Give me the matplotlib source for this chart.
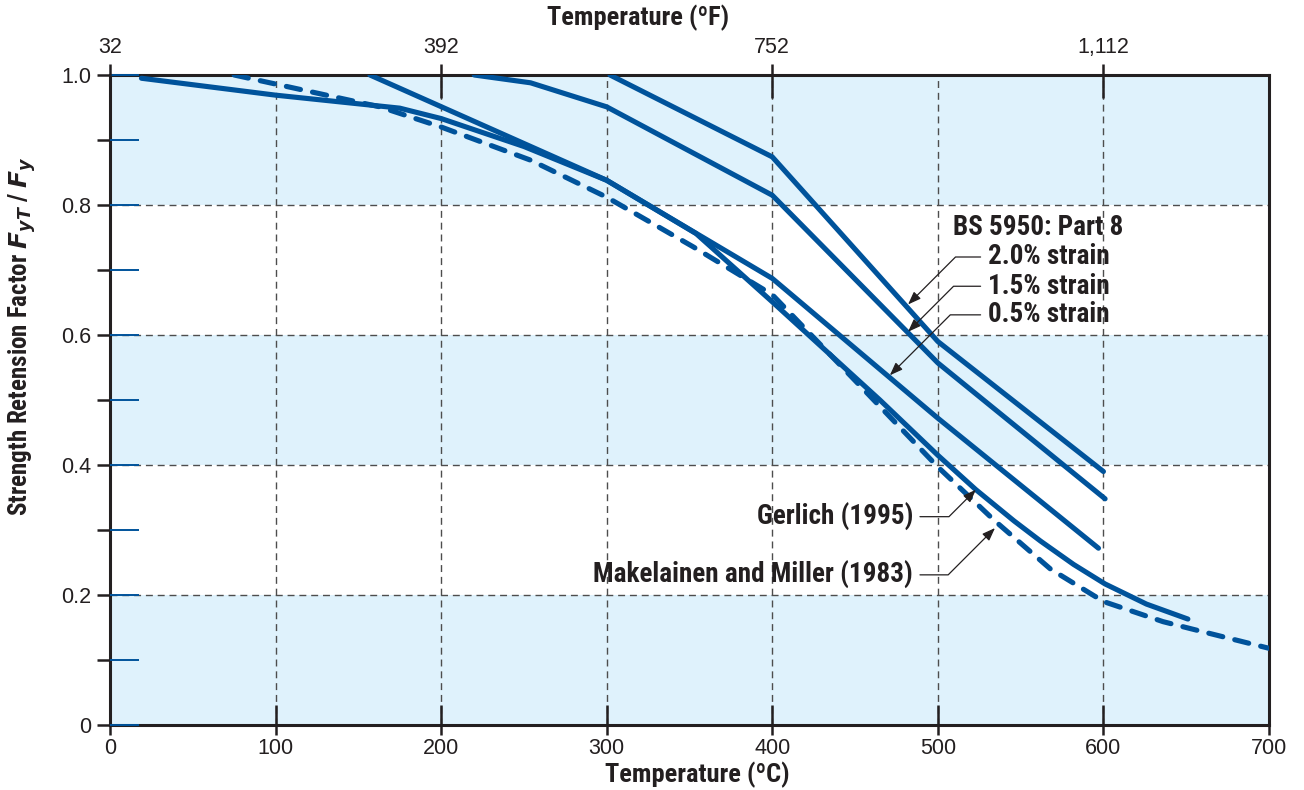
import numpy as np
import matplotlib
matplotlib.use("Agg")
import matplotlib.pyplot as plt
from matplotlib.ticker import MultipleLocator, FuncFormatter

plt.rcParams['font.family'] = ['Liberation Sans', 'DejaVu Sans']

# --- data (temperature in deg C, retention factor) ---
strain20_t = [302, 400, 500, 600]
strain20_f = [1.0, 0.874, 0.590, 0.390]

strain15_t = [220, 254, 300, 400, 500, 601]
strain15_f = [1.0, 0.988, 0.951, 0.815, 0.557, 0.348]

strain05_t = [157, 300, 400, 500, 597]
strain05_f = [1.0, 0.838, 0.687, 0.472, 0.272]

gerlich_t = [19, 100, 175, 200, 250, 300, 354, 400, 465, 500, 523, 546, 562,
             582, 601, 626, 651]
gerlich_f = [0.995, 0.969, 0.949, 0.933, 0.890, 0.838, 0.756, 0.651, 0.500,
             0.415, 0.362, 0.314, 0.283, 0.247, 0.217, 0.186, 0.163]

makel_t = [75, 163, 200, 254, 300, 352, 400, 450, 500, 534, 568, 600, 636, 653, 700]
makel_f = [1.0, 0.951, 0.920, 0.869, 0.812, 0.736, 0.662, 0.530, 0.397, 0.315,
           0.240, 0.190, 0.159, 0.148, 0.118]

x_ticks = [0, 100, 200, 300, 400, 500, 600, 700]
y_ticks = [0, 0.2, 0.4, 0.6, 0.8, 1.0]
y_labels = ['0', '0.2', '0.4', '0.6', '0.8', '1.0']
top_f_ticks = [32, 392, 752, 1112]
blue_bands = [(0, 0.2), (0.4, 0.6), (0.8, 1.0)]
white_bands = [(0.2, 0.4), (0.6, 0.8)]

BLUE = '#00539b'
BAND = '#dff2fc'
DARK = '#231f20'
GRID = '#4d4d4d'
NARROW = ['Liberation Sans Narrow', 'Roboto Condensed', 'DejaVu Sans Condensed',
          'Roboto', 'DejaVu Sans']

fig = plt.figure(figsize=(13.04, 7.90), dpi=100, facecolor='white')
ax = fig.add_axes([110 / 1304, 1 - 725 / 790, 1159 / 1304, 650 / 790])
ax.set_facecolor('white')
ax.set_xlim(0, 700)
ax.set_ylim(0, 1.0)

for lo, hi in blue_bands:
    ax.fill_between([x_ticks[0], x_ticks[-1]], lo, hi, facecolor=BAND,
                    edgecolor='none', lw=0, zorder=0.5)
for lo, hi in white_bands:
    ax.fill_between([x_ticks[0], x_ticks[-1]], lo, hi, facecolor='#ffffff',
                    edgecolor='none', lw=0, zorder=0.5)

for t in x_ticks[1:-1]:
    ax.axvline(t, color=GRID, lw=1.0, ls=(0, (5, 3.5)), zorder=1)
for f in y_ticks[1:-1]:
    ax.axhline(f, color=GRID, lw=1.0, ls=(0, (5, 3.5)), zorder=1)

lw = 3.7
solid = dict(color=BLUE, lw=lw, solid_capstyle='round', solid_joinstyle='miter',
             zorder=3)
ax.plot(strain20_t, strain20_f, **solid)
ax.plot(strain15_t, strain15_f, **solid)
ax.plot(strain05_t, strain05_f, **solid)
ax.plot(gerlich_t, gerlich_f, color=BLUE, lw=lw, solid_capstyle='round', zorder=3)
ax.plot(makel_t, makel_f, color=BLUE, lw=lw, ls=(0, (2.8, 2.4)),
        dash_capstyle='round', zorder=3)

# spines
for s in ax.spines.values():
    s.set_linewidth(2.2)
    s.set_color(DARK)

# bottom axis
ax.set_xticks(x_ticks)
ax.tick_params(axis='x', direction='in', length=14.5, width=1.8, color=DARK,
               labelsize=15.5, pad=9, labelcolor=DARK)
secb = ax.secondary_xaxis('bottom')
secb.set_xticks(x_ticks)
secb.tick_params(direction='out', length=7, width=1.8, color=DARK, labelbottom=False)
secb.spines['bottom'].set_visible(False)

# left axis
ax.set_yticks(y_ticks)
ax.set_yticklabels(y_labels)
ax.yaxis.set_minor_locator(MultipleLocator(0.1))
ax.tick_params(axis='y', which='both', direction='out', length=9.5, width=1.8,
               color=DARK)
ax.tick_params(axis='y', labelsize=15.5, pad=4, labelcolor=DARK)
secl = ax.secondary_yaxis('left')
secl.set_yticks(np.arange(0, 1.01, 0.1))
secl.tick_params(direction='in', length=21, width=1.4, color=BLUE, labelleft=False)
secl.spines['left'].set_visible(False)


def c2f(c):
    return np.asarray(c) * 9 / 5 + 32


def f2c(f):
    return (np.asarray(f) - 32) * 5 / 9


# top axis in Fahrenheit
sect = ax.secondary_xaxis('top', functions=(c2f, f2c))
sect.set_xticks(top_f_ticks)
sect.xaxis.set_major_formatter(FuncFormatter(lambda v, p: f"{v:,.0f}"))
sect.tick_params(direction='out', length=8, width=1.8, color=DARK,
                 labelsize=15.5, pad=4, labelcolor=DARK)
sect.spines['top'].set_visible(False)
sect2 = ax.secondary_xaxis('top', functions=(c2f, f2c))
sect2.set_xticks(top_f_ticks)
sect2.tick_params(direction='in', length=16.5, width=1.8, color=DARK, labeltop=False)
sect2.spines['top'].set_visible(False)

for sec in (secb, secl, sect, sect2):
    sec.set_zorder(4)

# axis titles
fig.text(638 / 1304, 1 - 18 / 790, 'Temperature (ºF)', ha='center', va='center',
         fontsize=19, weight='bold', family=NARROW, color=DARK)
fig.text(697 / 1304, 1 - 775 / 790, 'Temperature (ºC)', ha='center', va='center',
         fontsize=19, weight='bold', family=NARROW, color=DARK)
fig.text(22 / 1304, 1 - 336 / 790,
         r'Strength Retension Factor $\mathbfit{F}_{\mathbfit{yT}}$ / $\mathbfit{F}_{\mathbfit{y}}$',
         rotation=90, ha='center', va='center', fontsize=18, weight='bold',
         family=NARROW, color=DARK)

# annotations
arrow = dict(arrowstyle='-|>,head_length=0.4,head_width=0.15', color=DARK, lw=0.9,
             connectionstyle='angle,angleA=0,angleB=45,rad=0', shrinkA=3, shrinkB=0)
txt = dict(fontsize=19.5, weight='bold', family=NARROW, color=DARK, va='center')

ax.text(509, 0.766, 'BS 5950: Part 8', ha='left', **txt)
ax.annotate('2.0% strain', xy=(482, 0.647), xytext=(530, 0.720), ha='left',
            arrowprops=arrow, annotation_clip=False, **txt)
ax.annotate('1.5% strain', xy=(482, 0.605), xytext=(530, 0.675), ha='left',
            arrowprops=arrow, annotation_clip=False, **txt)
ax.annotate('0.5% strain', xy=(471, 0.538), xytext=(530, 0.631), ha='left',
            arrowprops=arrow, annotation_clip=False, **txt)
ax.annotate('Gerlich (1995)', xy=(523, 0.362), xytext=(485, 0.3205), ha='right',
            arrowprops=arrow, annotation_clip=False, **txt)
ax.annotate('Makelainen and Miller (1983)', xy=(534.5, 0.303), xytext=(485, 0.231),
            ha='right', arrowprops=arrow, annotation_clip=False, **txt)

fig.savefig('out.png', dpi=100, facecolor='white')
